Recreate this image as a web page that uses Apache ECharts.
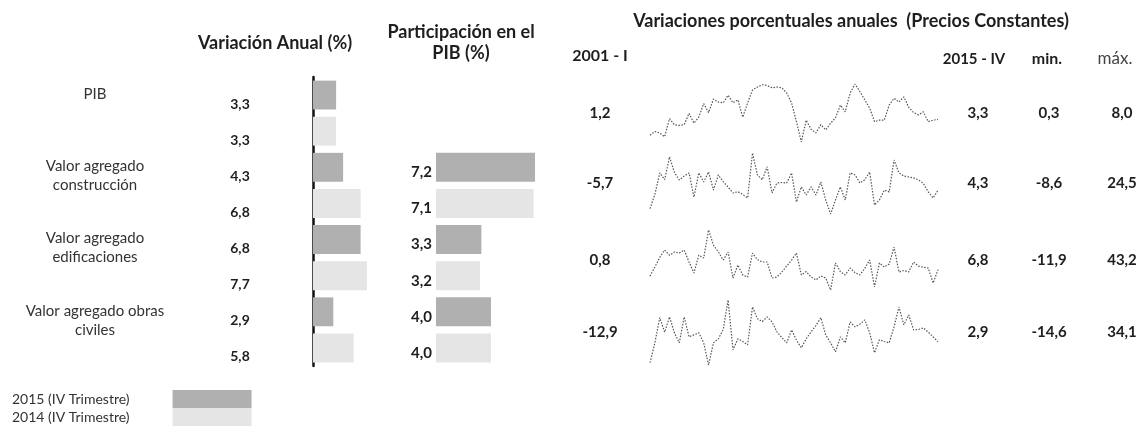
<!DOCTYPE html>
<html><head><meta charset="utf-8">
<script src="https://cdn.jsdelivr.net/npm/echarts@6/dist/echarts.min.js"></script>
<style>html,body{margin:0;padding:0;background:#fff}#c{width:1140px;height:431px}</style>
</head><body><div id="c"></div>
<script>
// ---------- DATA ----------
const groups = ['PIB', 'Valor agregado\nconstrucción', 'Valor agregado\nedificaciones', 'Valor agregado obras\nciviles'];
const years = ['2015 (IV Trimestre)', '2014 (IV Trimestre)'];
const variacion2015 = [3.3, 4.3, 6.8, 2.9];
const variacion2014 = [3.3, 6.8, 7.7, 5.8];
const participacion2015 = [null, 7.2, 3.3, 4.0];
const participacion2014 = [null, 7.1, 3.2, 4.0];
const periodStart = '2001 - I';
const periodEnd = '2015 - IV';
const pib = [1.2,1.7,1.5,1.0,3.4,2.6,2.5,2.6,4.1,2.8, 3.6,5.4,4.2,6.0,5.6,5.5,6.5,5.5,5.9,3.6, 5.5,7.2,7.6,7.9,7.8,7.5,7.6,7.5,6.8,5.5, 3.0,0.3,3.2,2.0,1.5,2.6,1.9,2.8,3.5,5.2, 4.3,6.8,8.0,7.0,5.9,4.8,3.0,3.2,3.2,5.2, 6.1,5.6,6.3,4.9,4.2,3.9,4.3,3.0,3.2,3.3];
const construccion = [-5.7,2.0,13.7,10.0,22.4,14.0,9.9,12.0,13.7,0.6, 13.7,8.8,14.2,4.4,12.6,9.0,6.0,2.8,3.5,2.0, 0.1,24.5,12.6,10.0,17.0,2.8,8.2,8.5,8.2,13.7, -2.1,6.1,1.7,6.1,1.7,8.8,-1.0,-8.6,-1.0,6.1, -1.0,13.7,12.6,8.2,10.0,14.2,-3.7,-1.0,4.4,3.4, 20.7,13.7,12.0,11.5,11.0,9.9,8.0,3.4,0.1,4.3];
const edificaciones = [0.8,9.2,18,24.8,20,23,22,24.8,13.8,3.7, 20.2,17.5,43.2,29.4,23,15.6,23,-0.9,11,1.9, 0,22,16,13.8,13.8,-0.9,0,4.6,10,15.6, 22,1.9,5,0,-2.7,1,-0.9,-11.9,12.9,5, 1.9,8.3,4,1.9,8,15.6,-9.1,12.9,9.2,12, 27.5,4.6,6,4.6,13.8,10,9,8.3,-5.5,6.8];
const obrasCiviles = [-12.9,2.0,20.9,10,21.4,9.5,2.0,21.4,6.5,8, 9.5,2.0,-14.6,2.0,5,12,34.1,-3.2,5,3, 0.5,28.9,20,18,21.4,17.7,10.2,6,2.0,11.7, 4,-1.7,5,10.2,15,20.9,8,2.0,-4.7,6.5, 2.0,17.7,14,16,19.2,9.5,-5.4,4.3,3,2.0, 14,28.9,15.5,22.9,11.7,12,13.2,10,6.5,2.9];
const sparkSeries = [pib, construccion, edificaciones, obrasCiviles];

// ---------- HELPERS ----------
const FONT = 'Lato';
const fmt = v => v.toFixed(1).replace('.', ',');
const quarters = [];
for (let y = 2001; y <= 2015; y++) ['I','II','III','IV'].forEach(q => quarters.push(y + ' - ' + q));
function firstOfPair(a) { const out = []; a.forEach(v => { out.push(v); out.push(null); }); return out; }
function secondOfPair(a) { const out = []; a.forEach(v => { out.push(null); out.push(v); }); return out; }
const rowIdx = [0,1,2,3,4,5,6,7].map(String);
const rowVals = []; variacion2015.forEach((v, i) => { rowVals.push(v); rowVals.push(variacion2014[i]); });

const C2015 = '#b0b0b0', C2014 = '#e5e5e5';
const DARK = '#1e1e1e';

// layout
const barTop = 77, barH = 289;
const sparkLeft = 650, sparkW = 288;
const sparkBoxes = [[84, 58], [153, 61], [230, 60], [300, 65]];

const grids = [
  { left: 313, top: barTop, width: 70, height: barH },
  { left: 436, top: barTop, width: 110, height: barH }
];
sparkBoxes.forEach(b => grids.push({ left: sparkLeft, top: b[0], width: sparkW, height: b[1] }));

const xAxes = [
  { gridIndex: 0, type: 'value', min: 0, max: 10, show: false },
  { gridIndex: 1, type: 'value', min: 0, max: 8, show: false }
];
const yAxes = [
  { gridIndex: 0, type: 'category', data: rowIdx, inverse: true, position: 'left',
    axisLine: { show: true, lineStyle: { color: '#111', width: 2.5 } }, axisTick: { show: false },
    axisLabel: { margin: 73, align: 'center', verticalAlign: 'top', lineHeight: 18, fontFamily: FONT, fontWeight: 'bold', fontSize: 14, color: DARK,
      formatter: (v, i) => fmt(rowVals[i]) } },
  { gridIndex: 0, type: 'category', data: groups, inverse: true, position: 'left',
    axisLine: { show: false }, axisTick: { show: false },
    axisLabel: { margin: 218, align: 'center', verticalAlign: 'middle', fontFamily: FONT, fontSize: 15, color: '#333', lineHeight: 19,
      formatter: (v, i) => i === 0 ? v + '\n\n' : v + '\n' } },
  { gridIndex: 1, type: 'category', data: rowIdx, inverse: true, show: false }
];
const partLabel = { show: true, position: 'left', distance: 4, offset: [0, 5], fontFamily: FONT, fontWeight: 'bold', fontSize: 15, color: DARK, formatter: p => fmt(p.value) };
const series = [
  { type: 'bar', name: years[0], xAxisIndex: 0, yAxisIndex: 0, data: firstOfPair(variacion2015), barGap: '-100%', barCategoryGap: '20%', itemStyle: { color: C2015 }, silent: true },
  { type: 'bar', name: years[1], xAxisIndex: 0, yAxisIndex: 0, data: secondOfPair(variacion2014), barGap: '-100%', barCategoryGap: '20%', itemStyle: { color: C2014 }, silent: true },
  { type: 'bar', name: years[0], xAxisIndex: 1, yAxisIndex: 2, data: firstOfPair(participacion2015), barGap: '-100%', barCategoryGap: '20%', itemStyle: { color: C2015 }, silent: true, label: partLabel },
  { type: 'bar', name: years[1], xAxisIndex: 1, yAxisIndex: 2, data: secondOfPair(participacion2014), barGap: '-100%', barCategoryGap: '20%', itemStyle: { color: C2014 }, silent: true, label: partLabel }
];
sparkSeries.forEach((d, k) => {
  xAxes.push({ gridIndex: 2 + k, type: 'category', data: quarters, boundaryGap: false, show: false });
  yAxes.push({ gridIndex: 2 + k, type: 'value', min: Math.min(...d), max: Math.max(...d), show: false });
  series.push({ type: 'line', xAxisIndex: 2 + k, yAxisIndex: 3 + k, data: d, symbol: 'none', silent: true,
    lineStyle: { color: '#555', width: 1.2, type: [1.5, 1.5] } });
});

// ---------- TEXT ----------
const graphic = [];
function txt(x, y, s, o) {
  graphic.push({ type: 'text', x, y, style: Object.assign({ text: s, fontFamily: FONT, fontSize: 15, fontWeight: 'bold', fill: DARK, align: 'center', verticalAlign: 'middle' }, o || {}) });
}
txt(275, 43, 'Variación Anual (%)', { fontSize: 18 });
txt(461, 43, 'Participación en el\nPIB (%)', { fontSize: 18, lineHeight: 21 });
txt(851, 21, 'Variaciones porcentuales anuales  (Precios Constantes)', { fontSize: 18 });
txt(600, 56, periodStart, { fontSize: 16 });
txt(974, 59, periodEnd);
txt(1047, 59, 'min.', { fontSize: 16 });
txt(1115, 59, 'máx.', { fontSize: 17, fontWeight: 'normal', fill: '#444' });
sparkSeries.forEach((d, k) => {
  const cy = sparkBoxes[k][0] + sparkBoxes[k][1] / 2;
  txt(600, cy, fmt(d[0]));
  txt(978, cy, fmt(d[d.length - 1]));
  txt(1049, cy, fmt(Math.min(...d)));
  txt(1122, cy, fmt(Math.max(...d)));
});

const chart = echarts.init(document.getElementById('c'), null, { renderer: 'canvas' });
chart.setOption({
  animation: false,
  backgroundColor: '#fff',
  grid: grids, xAxis: xAxes, yAxis: yAxes, series,
  legend: { data: years, orient: 'vertical', left: 12, top: 390, align: 'right', itemWidth: 79, itemHeight: 18, itemGap: 0,
    padding: 0, icon: 'rect', selectedMode: false,
    textStyle: { fontFamily: FONT, fontSize: 14, color: '#333', padding: [0, 38, 0, 0] } },
  graphic
});
</script></body></html>
